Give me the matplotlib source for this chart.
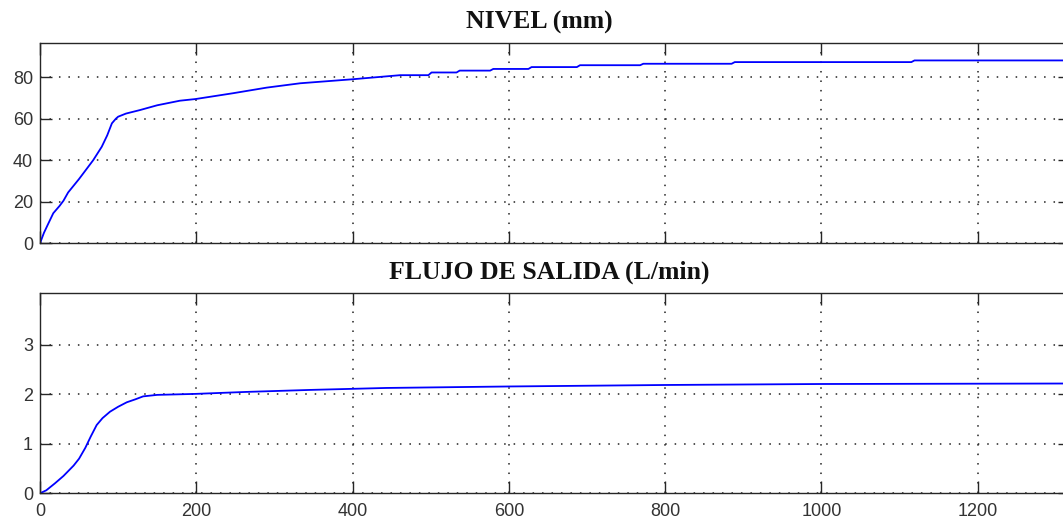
import matplotlib.pyplot as plt

# tiempo (s) y nivel del tanque (mm)
t_nivel = [0, 5, 10, 17, 25, 30, 36, 50, 60, 68, 79, 86, 92, 97, 100, 110, 128, 150,
           179, 199, 247, 290, 333, 399, 461, 497, 501, 533, 537, 576, 580, 625, 629,
           687, 691, 768, 772, 885, 889, 1115, 1119, 1320]
nivel = [0, 5, 9, 14.5, 18, 20.5, 24.5, 31, 36, 40, 46.5, 52, 57.8, 60, 61, 62.5, 64.2, 66.5,
         68.7, 69.5, 72.3, 75, 77.1, 79, 81.0, 81.0, 82.3, 82.3, 83.2, 83.2, 84.0, 84.0, 84.9,
         84.9, 85.8, 85.8, 86.5, 86.5, 87.3, 87.3, 88.1, 88.1]

# tiempo (s) y flujo de salida (L/min)
t_flujo = [0, 8, 19, 30, 43, 50, 58, 65, 72.5, 80, 89.6, 100, 111, 122, 132, 150, 199,
           264, 345, 443, 600, 800, 1000, 1320]
flujo = [0, 0.06, 0.2, 0.35, 0.56, 0.7, 0.92, 1.15, 1.38, 1.52, 1.65, 1.75, 1.84, 1.9,
         1.96, 1.99, 2.01, 2.05, 2.09, 2.13, 2.16, 2.19, 2.21, 2.22]

xticks = [0, 200, 400, 600, 800, 1000, 1200]
yticks_nivel = [0, 20, 40, 60, 80]
yticks_flujo = [0, 1, 2, 3]

W, H = 1063, 521
fig = plt.figure(figsize=(W / 100, H / 100), dpi=100)

left = 40 / W
width = (1070 - 40) / W
ax1 = fig.add_axes([left, 1 - 243.3 / H, width, 200.3 / H])
ax2 = fig.add_axes([left, 1 - 493.3 / H, width, 200.3 / H])

ink = '#262626'
for ax in (ax1, ax2):
    ax.set_xlim(0, 1318)
    ax.set_xticks(xticks)
    ax.grid(True, color='#222222', linestyle=(0, (1.0, 5.2)), linewidth=1.1)
    ax.tick_params(direction='in', length=8.5, width=1.0, color=ink,
                   top=True, right=True, labelsize=13, labelcolor='#333333', pad=5)
    for s in ax.spines.values():
        s.set_color(ink)
        s.set_linewidth(1.0)
    for lab in ax.get_xticklabels() + ax.get_yticklabels():
        lab.set_family('Liberation Sans')

ax1.plot(t_nivel, nivel, color='#0000ff', linewidth=1.3)
ax1.set_ylim(0, 96.5)
ax1.set_yticks(yticks_nivel)
ax1.tick_params(labelbottom=False)

ax2.plot(t_flujo, flujo, color='#0000ff', linewidth=1.3)
ax2.set_ylim(0, 4.05)
ax2.set_yticks(yticks_flujo)
ax2.tick_params(axis='x', pad=7)

fig.text(539 / W, 1 - 29 / H, 'NIVEL (mm)', ha='center', va='baseline',
         family='Liberation Serif', weight='bold', fontsize=18.5, color='#111111')
fig.text(549 / W, 1 - 279 / H, 'FLUJO DE SALIDA (L/min)', ha='center', va='baseline',
         family='Liberation Serif', weight='bold', fontsize=18.5, color='#111111')

fig.savefig('out.png', dpi=100)
